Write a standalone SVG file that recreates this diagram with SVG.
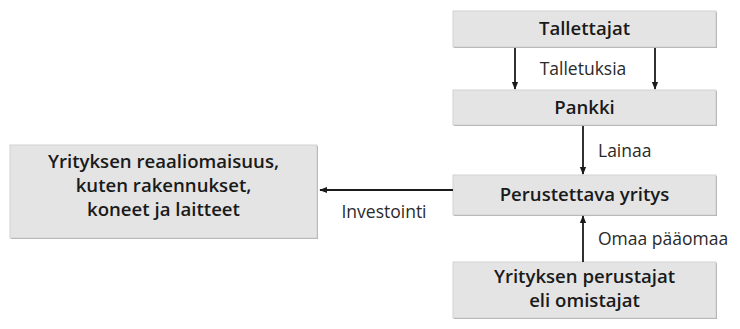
<svg xmlns="http://www.w3.org/2000/svg" width="740" height="329" viewBox="0 0 740 329">
<style>
.box{fill:#e4e4e4;stroke:#d2d2d2;stroke-width:1}
.sh{fill:#a0a0a0}
.t{font-family:"Open Sans","Liberation Sans",sans-serif;font-size:18.6px;font-weight:600;fill:#1a1a1a;text-anchor:middle}
.l{font-family:"Open Sans","Liberation Sans",sans-serif;font-size:17.5px;fill:#2a2a2a}
.c{stroke:#1a1a1a;stroke-width:1.8;fill:none}
</style>
<defs>
<marker id="ah" viewBox="0 0 10 10" refX="9" refY="5" markerWidth="8" markerHeight="8" orient="auto" markerUnits="userSpaceOnUse">
<path d="M0,1 L10,5 L0,9 z" fill="#1a1a1a"/>
</marker>
</defs>
<rect width="740" height="329" fill="#ffffff"/>
<g id="tallettajat">
<rect class="sh" x="454" y="12" width="263" height="36"/>
<rect class="box" x="453" y="11" width="263" height="36"/>
<text class="t" x="584.5" y="35">Tallettajat</text>
</g>
<g id="pankki">
<rect class="sh" x="454" y="91" width="263" height="35"/>
<rect class="box" x="453" y="90" width="263" height="35"/>
<text class="t" x="584.5" y="114">Pankki</text>
</g>
<g id="perustettava">
<rect class="sh" x="454" y="176" width="263" height="40"/>
<rect class="box" x="453" y="175" width="263" height="40"/>
<text class="t" x="584.5" y="201">Perustettava yritys</text>
</g>
<g id="perustajat">
<rect class="sh" x="454" y="263" width="263" height="56"/>
<rect class="box" x="453" y="262" width="263" height="56"/>
<text class="t" x="584.5" y="283">Yrityksen perustajat</text>
<text class="t" x="584.5" y="307">eli omistajat</text>
</g>
<g id="reaali">
<rect class="sh" x="11" y="146" width="307" height="93"/>
<rect class="box" x="10" y="145" width="307" height="93"/>
<text class="t" x="163.5" y="168">Yrityksen reaaliomaisuus,</text>
<text class="t" x="163.5" y="192">kuten rakennukset,</text>
<text class="t" x="163.5" y="216">koneet ja laitteet</text>
</g>
<g id="connectors">
<line class="c" x1="515" y1="48" x2="515" y2="89" marker-end="url(#ah)"/>
<line class="c" x1="655" y1="48" x2="655" y2="89" marker-end="url(#ah)"/>
<text class="l" x="583" y="75" text-anchor="middle">Talletuksia</text>
<line class="c" x1="583" y1="126" x2="583" y2="174" marker-end="url(#ah)"/>
<text class="l" x="598" y="157">Lainaa</text>
<line class="c" x1="583" y1="262" x2="583" y2="216" marker-end="url(#ah)"/>
<text class="l" x="598" y="245">Omaa pääomaa</text>
<line class="c" x1="453" y1="190" x2="320" y2="190" marker-end="url(#ah)"/>
<text class="l" x="384" y="218" text-anchor="middle">Investointi</text>
</g>
</svg>
